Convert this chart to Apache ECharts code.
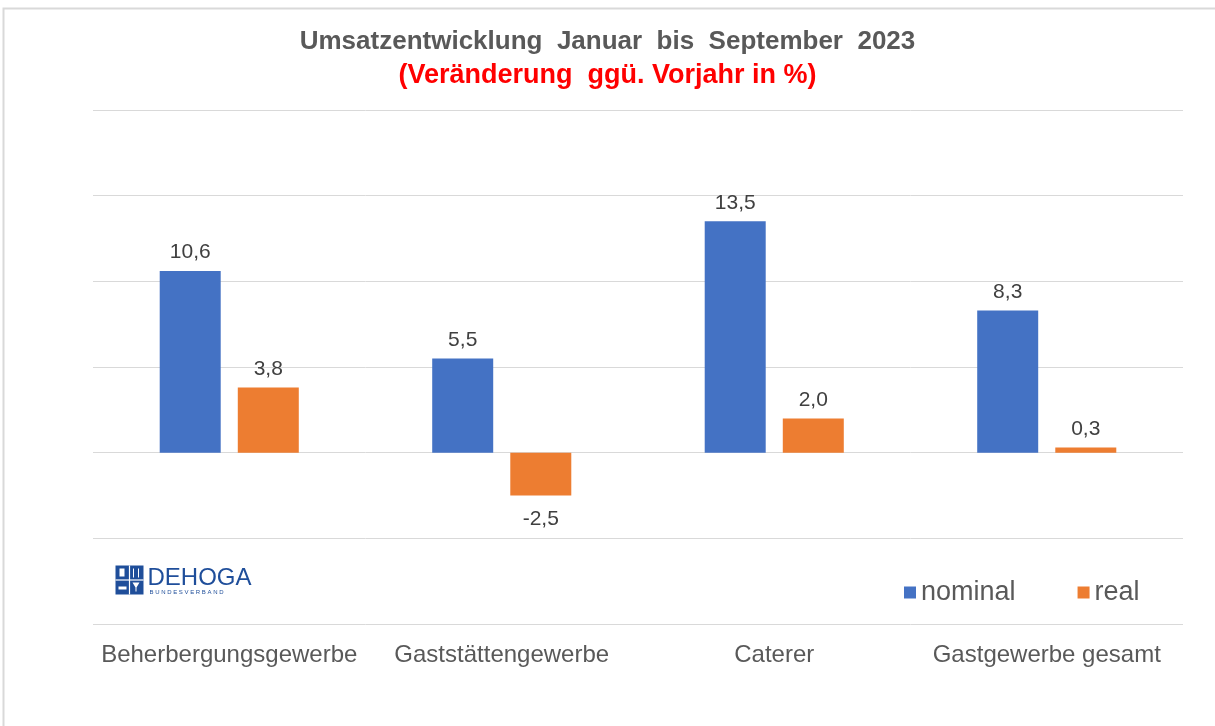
<!DOCTYPE html>
<html><head><meta charset="utf-8">
<script src="https://cdn.jsdelivr.net/npm/echarts@6/dist/echarts.min.js"></script>
<style>html,body{margin:0;padding:0;background:#fff}#c{width:1215px;height:726px}</style>
</head><body><div id="c"></div>
<script>
const categories = ['Beherbergungsgewerbe', 'Gaststättengewerbe', 'Caterer', 'Gastgewerbe gesamt'];
const nominal = [10.6, 5.5, 13.5, 8.3];
const real = [3.8, -2.5, 2.0, 0.3];
const seriesNames = ['nominal', 'real'];
const titleText = 'Umsatzentwicklung  Januar  bis  September  2023';
const subtitleText = '(Veränderung  ggü. Vorjahr in %)';

const fmt = p => p.value.toFixed(1).replace('.', ',');
function toData(arr) {
  return arr.map(v => v < 0 ? { value: v, label: { position: 'bottom', distance: 13 } } : { value: v });
}
const chart = echarts.init(document.getElementById('c'));
chart.setOption({
  animation: false,
  backgroundColor: '#fff',
  title: [
    { text: titleText, left: 'center', top: 24, textStyle: { fontFamily: 'Liberation Sans', fontWeight: 'bold', fontSize: 26, color: '#595959' } },
    { text: subtitleText, left: 'center', top: 57, textStyle: { fontFamily: 'Liberation Sans', fontWeight: 'bold', fontSize: 27, color: '#ff0000' } }
  ],
  legend: {
    data: seriesNames, left: 899, top: 574, icon: 'rect', itemWidth: 12, itemHeight: 12, itemGap: 62,
    textStyle: { fontFamily: 'Liberation Sans', fontSize: 27, color: '#595959' }
  },
  grid: { left: 93, right: 32, top: 110, bottom: 102 },
  xAxis: {
    type: 'category', data: categories,
    axisLine: { show: false, onZero: false }, axisTick: { show: false },
    axisLabel: { interval: 0, fontFamily: 'Liberation Sans', fontSize: 24, color: '#595959', margin: 19 }
  },
  yAxis: {
    type: 'value', min: -10, max: 20, interval: 5,
    axisLabel: { show: false }, axisLine: { show: false }, axisTick: { show: false },
    splitLine: { lineStyle: { color: '#d9d9d9', width: 1 } }
  },
  series: [
    { name: seriesNames[0], type: 'bar', data: toData(nominal), barWidth: 61, barGap: '28%', itemStyle: { color: '#4472c4' },
      label: { show: true, position: 'top', distance: 8, formatter: fmt, fontFamily: 'Liberation Sans', fontSize: 21, color: '#404040' } },
    { name: seriesNames[1], type: 'bar', data: toData(real), barWidth: 61, barGap: '28%', itemStyle: { color: '#ed7d31' },
      label: { show: true, position: 'top', distance: 8, formatter: fmt, fontFamily: 'Liberation Sans', fontSize: 21, color: '#404040' } }
  ],
  graphic: [
    { type: 'rect', shape: { x: 3.5, y: 8.5, width: 1300, height: 800 }, style: { fill: 'none', stroke: '#d9d9d9', lineWidth: 2 }, silent: true, z: -1 },
    { type: 'group', left: 113, top: 563, children: [
      { type: 'rect', shape: { x: 0, y: 0, width: 28, height: 29 }, style: { fill: '#1f4e9a' } },
      { type: 'line', shape: { x1: 14, y1: 0, x2: 14, y2: 29 }, style: { stroke: '#fff', lineWidth: 1.2 } },
      { type: 'line', shape: { x1: 0, y1: 14.5, x2: 28, y2: 14.5 }, style: { stroke: '#fff', lineWidth: 1.2 } },
      { type: 'rect', shape: { x: 4, y: 3, width: 5, height: 8 }, style: { fill: '#fff' } },
      { type: 'line', shape: { x1: 18, y1: 3, x2: 18, y2: 12 }, style: { stroke: '#fff', lineWidth: 1 } },
      { type: 'line', shape: { x1: 23, y1: 3, x2: 23, y2: 12 }, style: { stroke: '#fff', lineWidth: 1 } },
      { type: 'rect', shape: { x: 3, y: 21, width: 8, height: 3 }, style: { fill: '#fff' } },
      { type: 'polygon', shape: { points: [[17, 17], [24, 17], [21, 22], [21, 26], [20, 26], [20, 22]] }, style: { fill: '#fff' } },
      { type: 'text', x: 32, y: 1, style: { text: 'DEHOGA', font: '24px "Liberation Sans"', fill: '#1f4e9a' } },
      { type: 'text', x: 34, y: 24, style: { text: 'B U N D E S V E R B A N D', font: '6px "Liberation Sans"', fill: '#1f4e9a' } }
    ] }
  ]
});
</script></body></html>
